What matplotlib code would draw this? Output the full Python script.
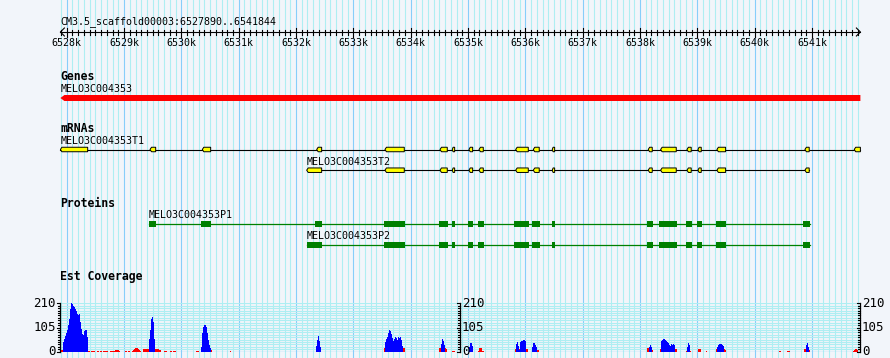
import matplotlib
matplotlib.use('Agg')
import matplotlib.pyplot as plt
import numpy as np
from matplotlib.patches import Polygon

plt.rcParams['font.family'] = ['DejaVu Sans Mono', 'DejaVu Sans']

seq_id = 'CM3.5_scaffold00003'
start, end = 6527890, 6541844

gene_name = 'MELO3C004353'
mrna_names = ['MELO3C004353T1', 'MELO3C004353T2']
protein_names = ['MELO3C004353P1', 'MELO3C004353P2']

# exon / cds coordinates (bp)
t1_exons = [(6527890, 6528366), (6529453, 6529552), (6530365, 6530511), (6532360, 6532447),
            (6533551, 6533888), (6534511, 6534638), (6534725, 6534767), (6535016, 6535081),
            (6535191, 6535266), (6535831, 6536051), (6536138, 6536242), (6536469, 6536511),
            (6538143, 6538213), (6538359, 6538632), (6538818, 6538893), (6539010, 6539068),
            (6539341, 6539493), (6540876, 6540951), (6541736, 6541844)]
t2_exons = [(6532186, 6532447),
            (6533551, 6533888), (6534511, 6534638), (6534725, 6534767), (6535016, 6535081),
            (6535191, 6535266), (6535831, 6536051), (6536138, 6536242), (6536469, 6536511),
            (6538143, 6538213), (6538359, 6538632), (6538818, 6538893), (6539010, 6539068),
            (6539341, 6539493), (6540876, 6540951)]
p1_cds = [(6529435, 6529557), (6530342, 6530517), (6532330, 6532453), (6533534, 6533900),
          (6534493, 6534650), (6534714, 6534772), (6534999, 6535091), (6535173, 6535278),
          (6535801, 6536063), (6536115, 6536255), (6536464, 6536516), (6538121, 6538225),
          (6538330, 6538644), (6538801, 6538905), (6538993, 6539080), (6539324, 6539498),
          (6540841, 6540963)]
p2_cds = [(6532191, 6532453), (6533534, 6533900),
          (6534493, 6534650), (6534714, 6534772), (6534999, 6535091), (6535173, 6535278),
          (6535801, 6536063), (6536115, 6536255), (6536464, 6536516), (6538121, 6538225),
          (6538330, 6538644), (6538801, 6538905), (6538993, 6539080), (6539324, 6539498),
          (6540841, 6540963)]

# est coverage, runs of (first bin start, values per bin)
cov_bin = 17.44
cov_max = 210
cov_blue = [
    (6527935, [40, 55, 68, 80, 95, 115, 140, 185, 210, 207, 200, 192, 185, 175, 165, 160,
               165, 130, 100, 75, 72, 90, 92, 92, 65]),
    (6529435, [55, 95, 140, 150, 130, 55]),
    (6530342, [20, 80, 108, 118, 118, 108, 80, 50, 28, 15]),
    (6532348, [25, 50, 68, 45, 22]),
    (6533551, [40, 55, 65, 80, 95, 88, 75, 60, 45, 55, 65, 60, 52, 62, 58, 62, 52, 25]),
    (6534528, [35, 55, 45, 30]),
    (6535016, [22, 36, 36, 25]),
    (6535836, [33, 43, 25, 8, 40, 46, 48, 51, 51, 46]),
    (6536115, [22, 39, 36, 29, 22]),
    (6538155, [22, 30, 19]),
    (6538365, [45, 50, 55, 54, 50, 46, 42, 36, 30, 25, 32, 30, 33, 30]),
    (6538818, [20, 38, 30]),
    (6539341, [20, 29, 32, 33, 32, 29, 24]),
    (6540893, [30, 38, 22]),
]
cov_red = [
    (6527890, [7, 7, 7]),
    (6528354, [5, 5, 5]),
    (6528424, [4, 4, 4, 4]),
    (6528528, [4, 4, 0, 4, 4]),
    (6528633, [4, 4, 4, 4, 4]),
    (6528755, [4, 4, 4, 4, 5, 7, 8, 8, 7, 5]),
    (6529017, [4, 4, 0, 4, 4]),
    (6529139, [5, 8, 12, 16, 16, 14, 10, 7, 5]),
    (6529331, [10, 12, 12, 12, 12, 12]),
    (6529540, [12, 12, 10, 10, 8, 6]),
    (6529697, [4, 4, 4]),
    (6529802, [4, 4, 0, 4, 4, 4]),
    (6530255, [4, 4, 4]),
    (6530517, [6]),
    (6530848, [3]),
    (6533534, [14] * 21),
    (6534493, [14, 14, 14, 14, 14, 14, 14, 10]),
    (6534720, [5, 5, 5]),
    (6535173, [5, 14, 14, 14, 5, 5]),
    (6535818, [12] * 13),
    (6536202, [8, 8]),
    (6538121, [14, 14, 14, 14, 14, 7]),
    (6538347, [12] * 17),
    (6538801, [5, 5, 5, 5, 5]),
    (6539010, [10, 10, 10]),
    (6539149, [3]),
    (6539324, [12] * 9 + [8]),
    (6540423, [3, 3]),
    (6540562, [3, 3, 3]),
    (6540858, [10, 12, 12, 12, 12, 7]),
    (6541713, [5, 8, 12, 12, 8]),
]

W, H = 890, 358
px = (end - start) / 800.0
left = start - 60.4 * px
bg = '#f2f5fa'
minor_c = '#aeeef2'
major_c = '#87cefa'
small = 7.2
bold = 8.3

fig = plt.figure(figsize=(W / 100, H / 100), dpi=100)
fig.patch.set_facecolor(bg)
ax = fig.add_axes([0, 0, 1, 1])
ax.set_xlim(left, left + W * px)
ax.set_ylim(H, 0)
ax.axis('off')

# grid
for g in range(6527900, end, 100):
    ax.axvline(g, color=major_c if g % 1000 == 0 else minor_c, lw=0.8, zorder=0)

# ruler
ax.text(start, 24, f'{seq_id}:{start}..{end}', fontsize=small, va='baseline', ha='left')
ax.plot([start, end], [32, 32], color='black', lw=0.8)
a = 4 * px
ax.plot([start + a, start, start + a], [28, 32, 36], color='black', lw=0.8)
ax.plot([end - a, end, end - a], [28, 32, 36], color='black', lw=0.8)
for g in range(6527900, end, 100):
    if g % 1000 == 0:
        ax.plot([g, g], [28, 36.5], color='black', lw=0.8)
        ax.text(g, 46.5, f'{g // 1000}k', fontsize=small, ha='center', va='baseline')
    else:
        ax.plot([g, g], [29.5, 35], color='black', lw=0.8)


def exon(a0, b0, yc, h, fc, ec, tip):
    t = min(tip, (b0 - a0) * 0.35)
    pts = [(a0, yc), (a0 + t, yc - h / 2), (b0, yc - h / 2), (b0, yc + h / 2), (a0 + t, yc + h / 2)]
    ax.add_patch(Polygon(pts, closed=True, fc=fc, ec=ec, lw=0.7, zorder=3))


# genes
ax.text(start, 80, 'Genes', fontsize=bold, weight='bold', va='baseline')
ax.text(start, 92.3, gene_name, fontsize=small, va='baseline')
exon(start, end, 98, 6, '#ff0000', 'none', 4 * px)

# mRNAs
ax.text(start, 132.3, 'mRNAs', fontsize=bold, weight='bold', va='baseline')
for name, exons, yl, yc in [(mrna_names[0], t1_exons, 144, 149.5),
                            (mrna_names[1], t2_exons, 165, 170.2)]:
    ax.text(exons[0][0], yl, name, fontsize=small, va='baseline')
    ax.plot([exons[0][0], exons[-1][1]], [yc, yc], color='black', lw=0.8, zorder=2)
    for s, e in exons:
        exon(s, e, yc, 4.5, '#ffff00', 'black', 1.5 * px)

# proteins
ax.text(start, 206.7, 'Proteins', fontsize=bold, weight='bold', va='baseline')
for name, cds, yl, yc in [(protein_names[0], p1_cds, 218.3, 223.8),
                          (protein_names[1], p2_cds, 239.3, 244.6)]:
    ax.text(cds[0][0], yl, name, fontsize=small, va='baseline')
    ax.plot([cds[0][0], cds[-1][1]], [yc, yc], color='#008000', lw=0.9, zorder=2)
    for s, e in cds:
        ax.add_patch(plt.Rectangle((s, yc - 3), e - s, 6, fc='#008000', ec='none', zorder=3))

# est coverage
ax.text(start, 280, 'Est Coverage', fontsize=bold, weight='bold', va='baseline')
cov = fig.add_axes([60.4 / W, (H - 351.7) / H, 800 / W, 48.4 / H])
cov.set_xlim(start, end)
cov.set_ylim(0, cov_max)
cov.axis('off')
levels = np.linspace(0, cov_max, 21)
for v in levels:
    cov.axhline(v, color=minor_c, lw=0.8, zorder=0)
cov.axhline(0, color=major_c, lw=0.9, zorder=0)

for runs, col in [(cov_red, '#ff0000'), (cov_blue, '#0000ff')]:
    for s, vals in runs:
        xs = s + np.arange(len(vals)) * cov_bin
        cov.bar(xs, vals, width=cov_bin, align='edge', color=col, lw=0, zorder=2)

for xa, side in [(start, 'left'), ((start + end) / 2, 'right'), (end, 'right')]:
    cov.plot([xa, xa], [0, cov_max], color='black', lw=0.9, clip_on=False, zorder=4)
    for v in levels:
        tl = 3.5 if v in (0, cov_max / 2, cov_max) else 2.5
        cov.plot([xa - tl * px, xa], [v, v], color='black', lw=0.8, clip_on=False, zorder=4)
    for v in (0, cov_max / 2, cov_max):
        if side == 'left':
            cov.text(xa - 4.5 * px, v, f'{v:g}', fontsize=9, ha='right', va='center', clip_on=False)
        else:
            cov.text(xa + 1.5 * px, v, f'{v:g}', fontsize=9, ha='left', va='center', clip_on=False)

fig.savefig('out.png', dpi=100, facecolor=bg)
